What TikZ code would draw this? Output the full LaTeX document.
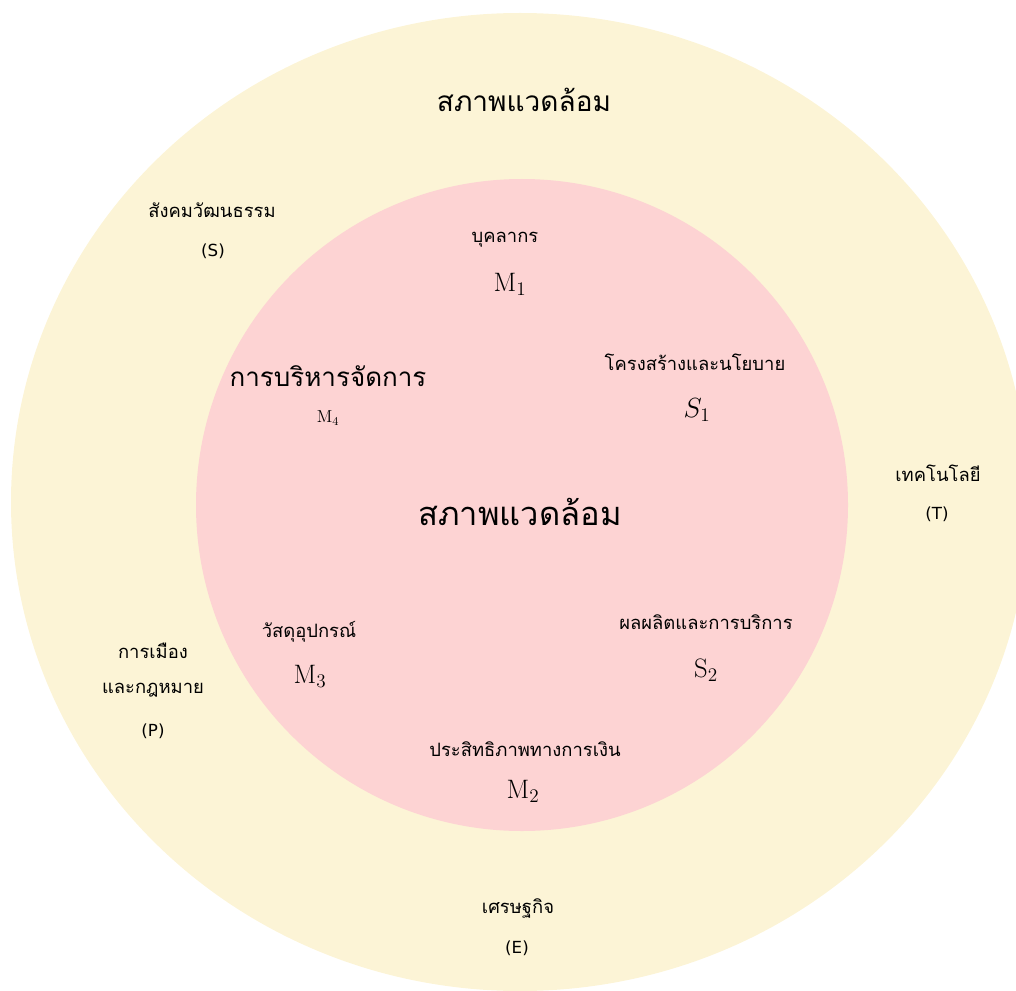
\documentclass[tikz,border=0pt]{standalone}
\usepackage{fontspec}
\newfontfamily\thai[Script=Thai]{Loma}
\newfontfamily\latinlbl{DejaVu Sans}
\definecolor{envyellow}{HTML}{FCF4D6}
\definecolor{corepink}{HTML}{FDD3D3}
\begin{document}
\begin{tikzpicture}[x=0.75pt,y=-0.75pt,
  small/.style={inner sep=0pt,font=\thai\fontsize{13.8}{16}\selectfont},
  medium/.style={inner sep=0pt,font=\thai\fontsize{19.5}{22}\selectfont},
  large/.style={inner sep=0pt,font=\thai\fontsize{21}{24}\selectfont},
  largeb/.style={inner sep=0pt,font=\thai\fontsize{24.5}{28}\selectfont},
  paren/.style={inner sep=0pt,font=\latinlbl\fontsize{12.5}{14}\selectfont},
  sym/.style={inner sep=0pt,font=\fontsize{20}{23}\selectfont},
  symsmall/.style={inner sep=0pt,font=\fontsize{13}{15}\selectfont}]
\useasboundingbox (0,0) rectangle (1016,991);
\begin{scope}
\clip (0,0) rectangle (1016,991);
\fill[envyellow] (520,502) ellipse [x radius=509, y radius=489];
\fill[corepink] (522,505) circle [radius=326];
\end{scope}
% outer
\node[large] (outertitle) at (524,100) {สภาพแวดล้อม};
\node[small] (soc) at (212,210) {สังคมวัฒนธรรม};
\node[paren] (socS) at (213,251) {(S)};
\node[small] (tech) at (938,473) {เทคโนโลยี};
\node[paren] (techT) at (937,514) {(T)};
\node[small] (pol1) at (153,651) {การเมือง};
\node[small] (pol2) at (153,690) {และกฎหมาย};
\node[paren] (polP) at (153,731) {(P)};
\node[small] (eco) at (518,908) {เศรษฐกิจ};
\node[paren] (ecoE) at (517,948) {(E)};
% inner
\node[largeb] (innertitle) at (520,512) {สภาพแวดล้อม};
\node[small] (staff) at (505,240) {บุคลากร};
\node[sym] (m1) at (510,284) {$\mathrm{M}_1$};
\node[medium] (mgmt) at (328,376) {การบริหารจัดการ};
\node[symsmall] (m4) at (328,418) {$\mathrm{M}_4$};
\node[small] (struct) at (695,362) {โครงสร้างและนโยบาย};
\node[sym] (s1) at (697,410) {$S_1$};
\node[small] (mat) at (309,632) {วัสดุอุปกรณ์};
\node[sym] (m3) at (310,676) {$\mathrm{M}_3$};
\node[small] (prod) at (706,622) {ผลผลิตและการบริการ};
\node[sym] (s2) at (706,670) {$\mathrm{S}_2$};
\node[small] (fin) at (525,749) {ประสิทธิภาพทางการเงิน};
\node[sym] (m2) at (523,791) {$\mathrm{M}_2$};
\end{tikzpicture}
\end{document}
